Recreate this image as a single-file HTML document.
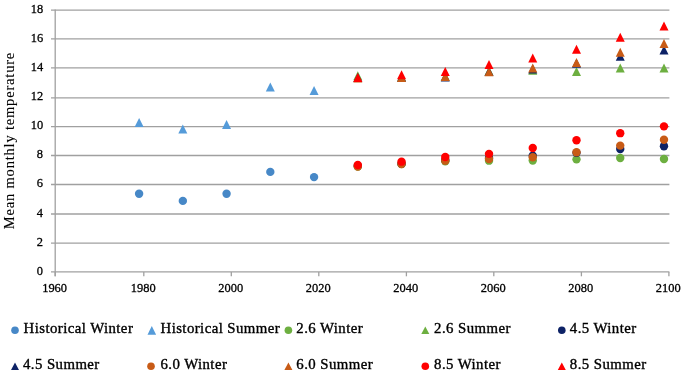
<!DOCTYPE html>
<html><head><meta charset="utf-8"><style>
html,body{margin:0;padding:0;background:#fff;width:685px;height:374px;overflow:hidden}
svg{display:block;will-change:transform}
.tk{font-family:"Liberation Serif",serif;font-size:13.4px;fill:#000;stroke:#000;stroke-width:0.3px}
.ax{font-family:"Liberation Serif",serif;font-size:14.5px;fill:#000;stroke:#000;stroke-width:0.1px}
.lg{font-family:"Liberation Serif",serif;font-size:14px;fill:#000;stroke:#000;stroke-width:0.35px;letter-spacing:0.4px;word-spacing:0px}
</style></head><body>
<svg width="685" height="374" viewBox="0 0 685 374">
<rect width="685" height="374" fill="#fff"/>
<line x1="51" y1="271.90" x2="669.4" y2="271.90" stroke="#a0a0a0" stroke-width="1.3"/>
<line x1="51" y1="243.10" x2="669.4" y2="243.10" stroke="#a0a0a0" stroke-width="1.3"/>
<line x1="51" y1="214.00" x2="669.4" y2="214.00" stroke="#a0a0a0" stroke-width="1.3"/>
<line x1="51" y1="184.50" x2="669.4" y2="184.50" stroke="#a0a0a0" stroke-width="1.3"/>
<line x1="51" y1="155.50" x2="669.4" y2="155.50" stroke="#a0a0a0" stroke-width="1.3"/>
<line x1="51" y1="126.70" x2="669.4" y2="126.70" stroke="#a0a0a0" stroke-width="1.3"/>
<line x1="51" y1="97.80" x2="669.4" y2="97.80" stroke="#a0a0a0" stroke-width="1.3"/>
<line x1="51" y1="67.90" x2="669.4" y2="67.90" stroke="#a0a0a0" stroke-width="1.3"/>
<line x1="51" y1="38.90" x2="669.4" y2="38.90" stroke="#a0a0a0" stroke-width="1.3"/>
<line x1="51" y1="10.20" x2="669.4" y2="10.20" stroke="#a0a0a0" stroke-width="1.3"/>
<line x1="55.2" y1="9.58" x2="55.2" y2="276.3" stroke="#a0a0a0" stroke-width="1.3"/>
<line x1="55.20" y1="271.90" x2="55.20" y2="276.3" stroke="#a0a0a0" stroke-width="1.3"/>
<line x1="143.80" y1="271.90" x2="143.80" y2="276.3" stroke="#a0a0a0" stroke-width="1.3"/>
<line x1="231.30" y1="271.90" x2="231.30" y2="276.3" stroke="#a0a0a0" stroke-width="1.3"/>
<line x1="318.80" y1="271.90" x2="318.80" y2="276.3" stroke="#a0a0a0" stroke-width="1.3"/>
<line x1="406.40" y1="271.90" x2="406.40" y2="276.3" stroke="#a0a0a0" stroke-width="1.3"/>
<line x1="493.80" y1="271.90" x2="493.80" y2="276.3" stroke="#a0a0a0" stroke-width="1.3"/>
<line x1="581.40" y1="271.90" x2="581.40" y2="276.3" stroke="#a0a0a0" stroke-width="1.3"/>
<line x1="668.90" y1="271.90" x2="668.90" y2="276.3" stroke="#a0a0a0" stroke-width="1.3"/>
<text transform="translate(43.1,274.50) scale(0.93,1)" text-anchor="end" class="tk">0</text>
<text transform="translate(43.1,245.70) scale(0.93,1)" text-anchor="end" class="tk">2</text>
<text transform="translate(43.1,216.60) scale(0.93,1)" text-anchor="end" class="tk">4</text>
<text transform="translate(43.1,187.10) scale(0.93,1)" text-anchor="end" class="tk">6</text>
<text transform="translate(43.1,158.10) scale(0.93,1)" text-anchor="end" class="tk">8</text>
<text transform="translate(43.1,129.30) scale(0.93,1)" text-anchor="end" class="tk">10</text>
<text transform="translate(43.1,100.40) scale(0.93,1)" text-anchor="end" class="tk">12</text>
<text transform="translate(43.1,70.50) scale(0.93,1)" text-anchor="end" class="tk">14</text>
<text transform="translate(43.1,41.50) scale(0.93,1)" text-anchor="end" class="tk">16</text>
<text transform="translate(43.1,12.80) scale(0.93,1)" text-anchor="end" class="tk">18</text>
<text transform="translate(54.60,292.1) scale(0.93,1)" text-anchor="middle" class="tk">1960</text>
<text transform="translate(143.20,292.1) scale(0.93,1)" text-anchor="middle" class="tk">1980</text>
<text transform="translate(230.70,292.1) scale(0.93,1)" text-anchor="middle" class="tk">2000</text>
<text transform="translate(318.20,292.1) scale(0.93,1)" text-anchor="middle" class="tk">2020</text>
<text transform="translate(405.80,292.1) scale(0.93,1)" text-anchor="middle" class="tk">2040</text>
<text transform="translate(493.20,292.1) scale(0.93,1)" text-anchor="middle" class="tk">2060</text>
<text transform="translate(580.80,292.1) scale(0.93,1)" text-anchor="middle" class="tk">2080</text>
<text transform="translate(668.30,292.1) scale(0.93,1)" text-anchor="middle" class="tk">2100</text>
<text transform="translate(13.6,229.2) rotate(-90)" class="ax" textLength="176.5" lengthAdjust="spacing">Mean monthly temperature</text>
<circle cx="139.10" cy="193.80" r="4.2" fill="#4788c7"/>
<circle cx="182.84" cy="200.90" r="4.2" fill="#4788c7"/>
<circle cx="226.58" cy="193.80" r="4.2" fill="#4788c7"/>
<circle cx="270.32" cy="171.90" r="4.2" fill="#4788c7"/>
<circle cx="314.06" cy="177.10" r="4.2" fill="#4788c7"/>
<polygon points="139.10,118.10 134.60,127.10 143.60,127.10" fill="#559bd9"/>
<polygon points="182.84,124.40 178.34,133.40 187.34,133.40" fill="#559bd9"/>
<polygon points="226.58,120.10 222.08,129.10 231.08,129.10" fill="#559bd9"/>
<polygon points="270.32,82.50 265.82,91.50 274.82,91.50" fill="#559bd9"/>
<polygon points="314.06,86.10 309.56,95.10 318.56,95.10" fill="#559bd9"/>
<circle cx="357.80" cy="166.59" r="4.2" fill="#6daf40"/>
<circle cx="401.54" cy="164.13" r="4.2" fill="#6daf40"/>
<circle cx="445.28" cy="161.24" r="4.2" fill="#6daf40"/>
<circle cx="489.02" cy="160.66" r="4.2" fill="#6daf40"/>
<circle cx="532.76" cy="160.52" r="4.2" fill="#6daf40"/>
<circle cx="576.50" cy="159.36" r="4.2" fill="#6daf40"/>
<circle cx="620.24" cy="158.06" r="4.2" fill="#6daf40"/>
<circle cx="663.98" cy="159.07" r="4.2" fill="#6daf40"/>
<polygon points="357.80,71.37 353.30,80.37 362.30,80.37" fill="#6daf40"/>
<polygon points="401.54,72.38 397.04,81.38 406.04,81.38" fill="#6daf40"/>
<polygon points="445.28,71.66 440.78,80.66 449.78,80.66" fill="#6daf40"/>
<polygon points="489.02,66.45 484.52,75.45 493.52,75.45" fill="#6daf40"/>
<polygon points="532.76,65.87 528.26,74.87 537.26,74.87" fill="#6daf40"/>
<polygon points="576.50,67.02 572.00,76.02 581.00,76.02" fill="#6daf40"/>
<polygon points="620.24,63.55 615.74,72.55 624.74,72.55" fill="#6daf40"/>
<polygon points="663.98,63.55 659.48,72.55 668.48,72.55" fill="#6daf40"/>
<circle cx="357.80" cy="165.87" r="4.2" fill="#0d2266"/>
<circle cx="401.54" cy="163.70" r="4.2" fill="#0d2266"/>
<circle cx="445.28" cy="160.08" r="4.2" fill="#0d2266"/>
<circle cx="489.02" cy="157.91" r="4.2" fill="#0d2266"/>
<circle cx="532.76" cy="155.74" r="4.2" fill="#0d2266"/>
<circle cx="576.50" cy="152.85" r="4.2" fill="#0d2266"/>
<circle cx="620.24" cy="149.08" r="4.2" fill="#0d2266"/>
<circle cx="663.98" cy="146.19" r="4.2" fill="#0d2266"/>
<polygon points="357.80,73.10 353.30,82.10 362.30,82.10" fill="#0d2266"/>
<polygon points="401.54,72.67 397.04,81.67 406.04,81.67" fill="#0d2266"/>
<polygon points="445.28,72.38 440.78,81.38 449.78,81.38" fill="#0d2266"/>
<polygon points="489.02,67.02 484.52,76.02 493.52,76.02" fill="#0d2266"/>
<polygon points="532.76,64.42 528.26,73.42 537.26,73.42" fill="#0d2266"/>
<polygon points="576.50,58.63 572.00,67.63 581.00,67.63" fill="#0d2266"/>
<polygon points="620.24,51.83 615.74,60.83 624.74,60.83" fill="#0d2266"/>
<polygon points="663.98,45.46 659.48,54.46 668.48,54.46" fill="#0d2266"/>
<circle cx="357.80" cy="166.45" r="4.2" fill="#c85b16"/>
<circle cx="401.54" cy="163.99" r="4.2" fill="#c85b16"/>
<circle cx="445.28" cy="160.66" r="4.2" fill="#c85b16"/>
<circle cx="489.02" cy="159.07" r="4.2" fill="#c85b16"/>
<circle cx="532.76" cy="157.19" r="4.2" fill="#c85b16"/>
<circle cx="576.50" cy="152.27" r="4.2" fill="#c85b16"/>
<circle cx="620.24" cy="145.61" r="4.2" fill="#c85b16"/>
<circle cx="663.98" cy="139.68" r="4.2" fill="#c85b16"/>
<polygon points="357.80,73.39 353.30,82.39 362.30,82.39" fill="#c85b16"/>
<polygon points="401.54,73.10 397.04,82.10 406.04,82.10" fill="#c85b16"/>
<polygon points="445.28,71.94 440.78,80.94 449.78,80.94" fill="#c85b16"/>
<polygon points="489.02,67.31 484.52,76.31 493.52,76.31" fill="#c85b16"/>
<polygon points="532.76,63.55 528.26,72.55 537.26,72.55" fill="#c85b16"/>
<polygon points="576.50,57.91 572.00,66.91 581.00,66.91" fill="#c85b16"/>
<polygon points="620.24,47.78 615.74,56.78 624.74,56.78" fill="#c85b16"/>
<polygon points="663.98,38.95 659.48,47.95 668.48,47.95" fill="#c85b16"/>
<circle cx="357.80" cy="165.00" r="4.2" fill="#ff0000"/>
<circle cx="401.54" cy="161.67" r="4.2" fill="#ff0000"/>
<circle cx="445.28" cy="157.04" r="4.2" fill="#ff0000"/>
<circle cx="489.02" cy="153.86" r="4.2" fill="#ff0000"/>
<circle cx="532.76" cy="148.07" r="4.2" fill="#ff0000"/>
<circle cx="576.50" cy="140.26" r="4.2" fill="#ff0000"/>
<circle cx="620.24" cy="133.17" r="4.2" fill="#ff0000"/>
<circle cx="663.98" cy="126.37" r="4.2" fill="#ff0000"/>
<polygon points="357.80,73.10 353.30,82.10 362.30,82.10" fill="#ff0000"/>
<polygon points="401.54,70.21 397.04,79.21 406.04,79.21" fill="#ff0000"/>
<polygon points="445.28,67.02 440.78,76.02 449.78,76.02" fill="#ff0000"/>
<polygon points="489.02,60.08 484.52,69.08 493.52,69.08" fill="#ff0000"/>
<polygon points="532.76,53.57 528.26,62.57 537.26,62.57" fill="#ff0000"/>
<polygon points="576.50,44.74 572.00,53.74 581.00,53.74" fill="#ff0000"/>
<polygon points="620.24,32.73 615.74,41.73 624.74,41.73" fill="#ff0000"/>
<polygon points="663.98,21.44 659.48,30.44 668.48,30.44" fill="#ff0000"/>
<circle cx="15.00" cy="330.30" r="3.8" fill="#4788c7"/>
<text transform="translate(23.6,333) scale(1.06,1)" class="lg">Historical Winter</text>
<polygon points="151.80,325.90 147.50,334.70 156.10,334.70" fill="#559bd9"/>
<text transform="translate(160.5,333) scale(1.06,1)" class="lg">Historical Summer</text>
<circle cx="288.40" cy="330.30" r="3.8" fill="#6daf40"/>
<text transform="translate(296.3,333) scale(1.06,1)" class="lg">2.6 Winter</text>
<polygon points="425.30,326.55 421.30,334.05 429.30,334.05" fill="#6daf40"/>
<text transform="translate(434.1,333) scale(1.06,1)" class="lg">2.6 Summer</text>
<circle cx="561.80" cy="330.30" r="3.8" fill="#0d2266"/>
<text transform="translate(569.8,333) scale(1.06,1)" class="lg">4.5 Winter</text>
<polygon points="15.00,362.55 11.00,370.05 19.00,370.05" fill="#0d2266"/>
<text transform="translate(23.0,369) scale(1.06,1)" class="lg">4.5 Summer</text>
<circle cx="151.00" cy="366.30" r="3.8" fill="#c85b16"/>
<text transform="translate(160.5,369) scale(1.06,1)" class="lg">6.0 Winter</text>
<polygon points="288.40,362.55 284.40,370.05 292.40,370.05" fill="#c85b16"/>
<text transform="translate(296.3,369) scale(1.06,1)" class="lg">6.0 Summer</text>
<circle cx="425.30" cy="366.30" r="3.8" fill="#ff0000"/>
<text transform="translate(434.1,369) scale(1.06,1)" class="lg">8.5 Winter</text>
<polygon points="561.80,362.55 557.80,370.05 565.80,370.05" fill="#ff0000"/>
<text transform="translate(569.8,369) scale(1.06,1)" class="lg">8.5 Summer</text>
</svg>
</body></html>
